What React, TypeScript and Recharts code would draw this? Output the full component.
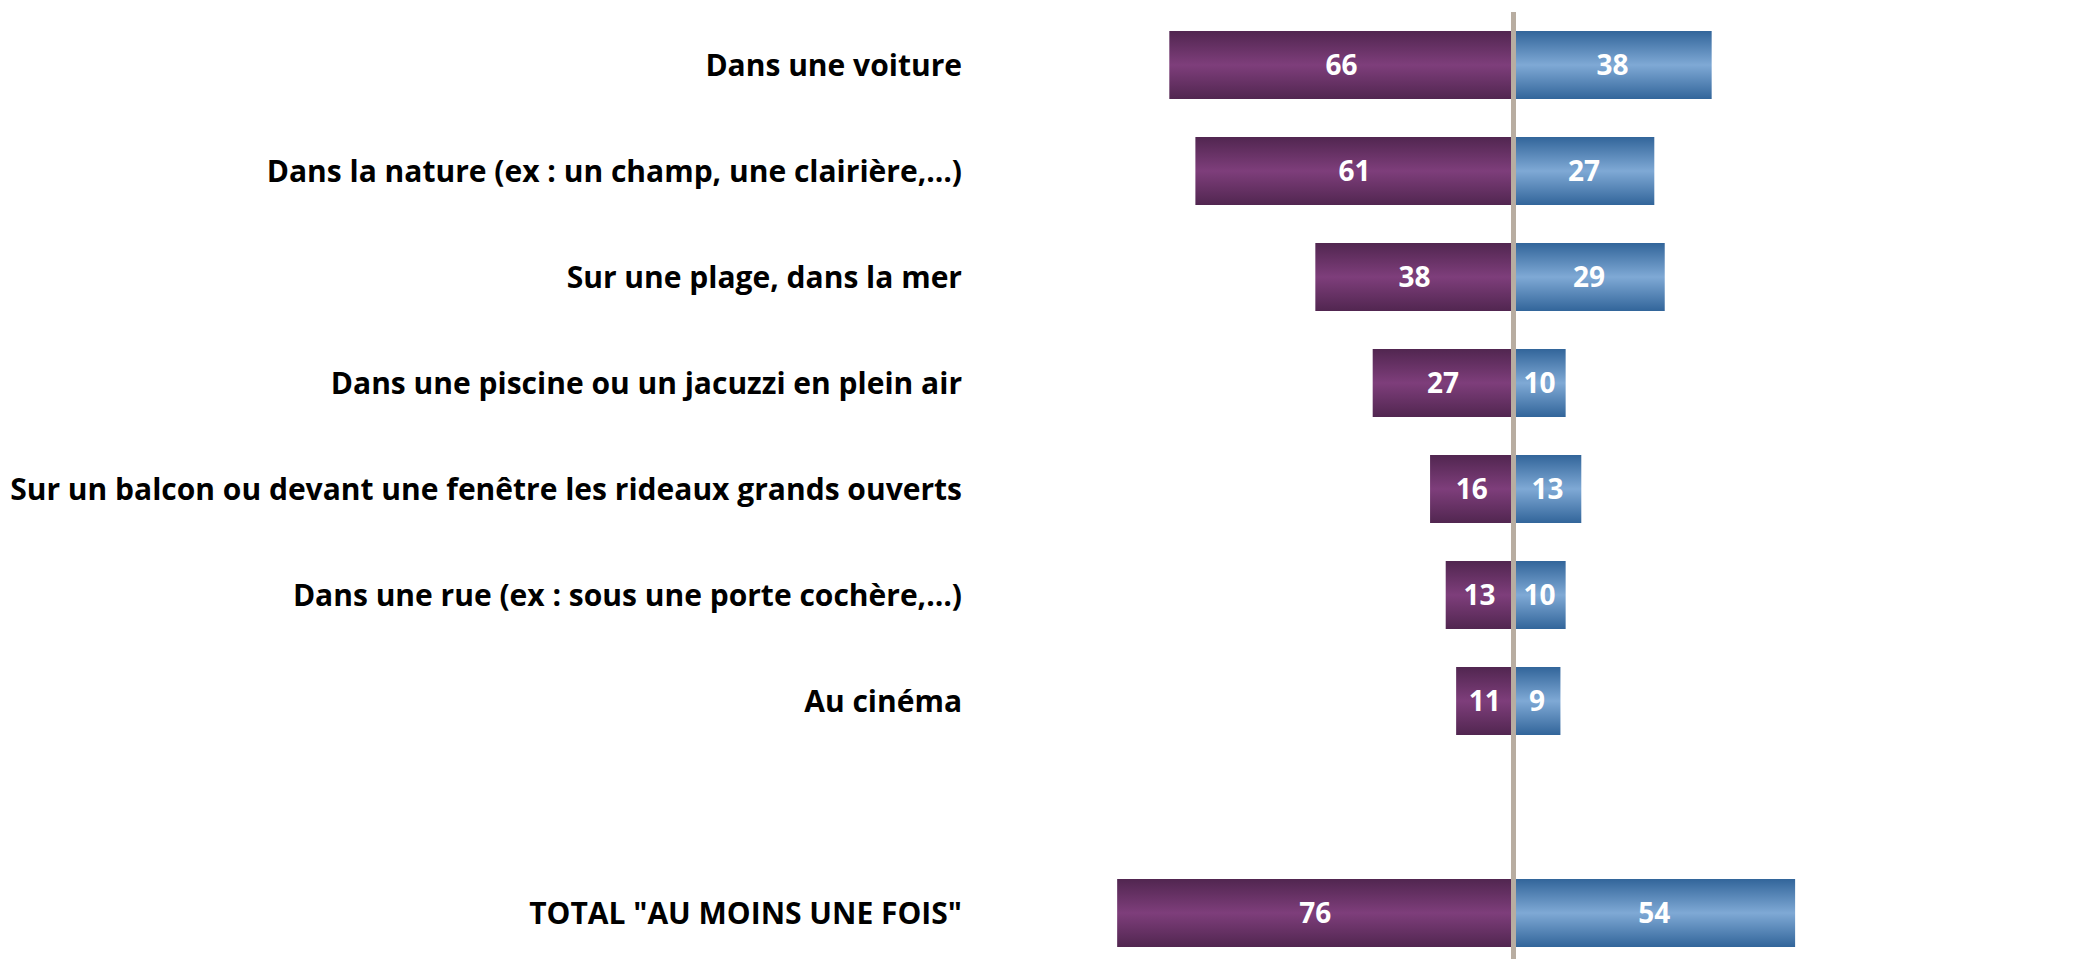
import { BarChart, Bar, XAxis, YAxis, ReferenceLine, LabelList } from 'recharts';

const categories = [
  'Dans une voiture',
  'Dans la nature (ex : un champ, une clairière,…)',
  'Sur une plage, dans la mer',
  'Dans une piscine ou un jacuzzi en plein air',
  'Sur un balcon ou devant une fenêtre les rideaux grands ouverts',
  'Dans une rue (ex : sous une porte cochère,…)',
  'Au cinéma',
  ' ',
  'TOTAL "AU MOINS UNE FOIS"',
];

// purple series (drawn to the left), blue series (to the right)
const purpleValues = [66, 61, 38, 27, 16, 13, 11, null, 76];
const blueValues = [38, 27, 29, 10, 13, 10, 9, null, 54];

const data = categories.map((name, i) => ({
  name,
  purple: purpleValues[i] == null ? null : -(purpleValues[i] as number),
  blue: blueValues[i],
}));

const FONT = '"Open Sans", Lato, sans-serif';

const fmt = (v: any) => (v == null ? '' : Math.abs(Number(v)).toString());

export default function App() {
  return (
    <div style={{ width: 2083, height: 959, overflow: 'hidden', background: '#fff' }}>
      <style>{'body{margin:0}'}</style>
      <BarChart
        width={2083}
        height={966}
        data={data}
        layout="vertical"
        stackOffset="sign"
        margin={{ top: 12, right: 48, bottom: 0, left: 0 }}
      >
        <defs>
          <linearGradient id="gPurple" x1="0" y1="0" x2="0" y2="1">
            <stop offset="0%" stopColor="#512650" />
            <stop offset="50%" stopColor="#7e3e7b" />
            <stop offset="100%" stopColor="#512650" />
          </linearGradient>
          <linearGradient id="gBlue" x1="0" y1="0" x2="0" y2="1">
            <stop offset="0%" stopColor="#32659a" />
            <stop offset="50%" stopColor="#7fa9d5" />
            <stop offset="100%" stopColor="#32659a" />
          </linearGradient>
        </defs>
        <XAxis type="number" domain={[-100, 100]} hide />
        <YAxis
          type="category"
          dataKey="name"
          width={992}
          interval={0}
          axisLine={false}
          tickLine={false}
          tickSize={0}
          tickMargin={30}
          tick={{ fill: '#000', fontFamily: FONT, fontWeight: 700, fontSize: 30 }}
        />
        <Bar dataKey="purple" stackId="s" fill="url(#gPurple)" barSize={68} isAnimationActive={false}>
          <LabelList
            dataKey="purple"
            position="center"
            formatter={fmt}
            style={{ fill: '#fff', fontFamily: FONT, fontWeight: 700, fontSize: 28 }}
          />
        </Bar>
        <Bar dataKey="blue" stackId="s" fill="url(#gBlue)" barSize={68} isAnimationActive={false}>
          <LabelList
            dataKey="blue"
            position="center"
            formatter={fmt}
            style={{ fill: '#fff', fontFamily: FONT, fontWeight: 700, fontSize: 28 }}
          />
        </Bar>
        <ReferenceLine x={0} stroke="#b8ada1" strokeWidth={5} />
      </BarChart>
    </div>
  );
}
